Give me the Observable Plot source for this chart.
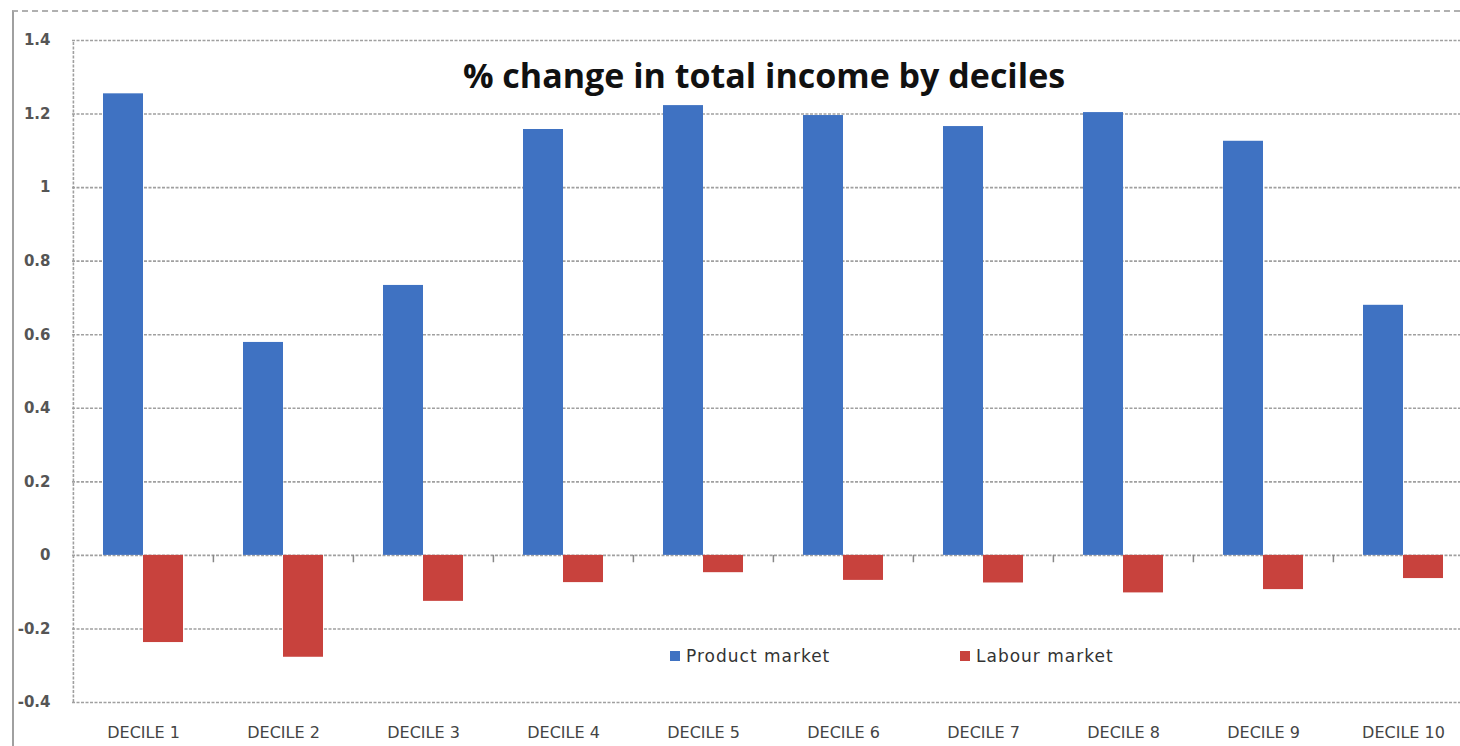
<!DOCTYPE html>
<html>
<head>
<meta charset="utf-8">
<script src="https://cdn.jsdelivr.net/npm/d3@7"></script>
<script src="https://cdn.jsdelivr.net/npm/@observablehq/plot@0.6"></script>
<style>
  html, body { margin: 0; padding: 0; background: #fff; overflow: hidden; width: 1460px; height: 746px; }
  #wrap { position: relative; width: 1460px; height: 746px; overflow: hidden; }
  #chart { position: absolute; left: 0; top: 0; width: 1474px; }
  #chart svg { max-width: none !important; }
  #border { position: absolute; left: 12px; top: 10px; right: -10px; bottom: -10px; border-left: 2px solid #a0a0a0; border-top: 2px dashed #b0b0b0; }
  #title { position: absolute; left: 764px; top: 58px; transform: translateX(-50%); font-family: "Open Sans", sans-serif; font-weight: 700; font-size: 34px; line-height: 34px; color: #111; white-space: nowrap; }
  .leg { position: absolute; top: 646px; font-family: "DejaVu Sans", sans-serif; font-size: 17px; letter-spacing: 1px; line-height: 20px; color: #333; white-space: nowrap; }
  .sw { display: inline-block; width: 10px; height: 10px; margin-right: 6px; vertical-align: 1px; }
</style>
</head>
<body>
<div id="wrap">
  <div id="border"></div>
  <div id="chart"></div>
  <div id="title">% change in total income by deciles</div>
  <div id="legend"></div>
</div>
<script>
const deciles = ["DECILE 1","DECILE 2","DECILE 3","DECILE 4","DECILE 5","DECILE 6","DECILE 7","DECILE 8","DECILE 9","DECILE 10"];
const productMarket = [1.255, 0.579, 0.734, 1.158, 1.223, 1.196, 1.166, 1.204, 1.126, 0.680];
const labourMarket = [-0.237, -0.277, -0.125, -0.074, -0.047, -0.068, -0.075, -0.102, -0.093, -0.063];
const yTicks = [-0.4, -0.2, 0, 0.2, 0.4, 0.6, 0.8, 1.0, 1.2, 1.4];
const seriesNames = ["Product market", "Labour market"];
const seriesColors = ["#3f72c2", "#c8423d"];

const rows = deciles.map((d, i) => ({decile: d, product: productMarket[i], labour: labourMarket[i]}));

const width = 1474, marginLeft = 72, marginRight = 0;
const step = (width - marginLeft - marginRight) / deciles.length;
const barW = 40;
const pInner = (step - barW) / step;

const gridStyle = {stroke: "#a0a0a0", strokeWidth: 1.6, strokeDasharray: "3,1.5"};

const chart = Plot.plot({
  width,
  height: 746,
  marginLeft,
  marginRight,
  marginTop: 40,
  marginBottom: 44,
  style: {background: "transparent", overflow: "visible", maxWidth: "none"},
  x: {type: "band", domain: deciles, paddingInner: pInner, paddingOuter: pInner / 2, label: null},
  y: {domain: [-0.4, 1.4], label: null},
  marks: [
    Plot.ruleY(yTicks, gridStyle),
    Plot.ruleX([deciles[0]], {x: d => d, y1: -0.4, y2: 1.4, dx: -step / 2, ...gridStyle}),
    Plot.ruleX(deciles.slice(1), {x: d => d, y1: 0, y2: -0.02, dx: -step / 2, stroke: "#888", strokeWidth: 1.5}),
    Plot.barY(rows, {x: "decile", y: "product", fill: seriesColors[0], dx: -barW / 2}),
    Plot.barY(rows, {x: "decile", y: "labour", fill: seriesColors[1], dx: barW / 2}),
    Plot.axisY({ticks: yTicks, tickSize: 0, tickPadding: 22, tickFormat: d => String(+d.toFixed(1)), fontSize: 15, fontWeight: "bold", fill: "#555", fontFamily: "DejaVu Sans"}),
    Plot.axisX({tickSize: 0, tickPadding: 24, fontSize: 16, fill: "#444", fontFamily: "DejaVu Sans", style: "letter-spacing: 0.6px"})
  ]
});
document.getElementById("chart").appendChild(chart);

const legendPos = [670, 960];
const legend = document.getElementById("legend");
seriesNames.forEach((name, i) => {
  const el = document.createElement("div");
  el.className = "leg";
  el.style.left = legendPos[i] + "px";
  el.innerHTML = `<span class="sw" style="background:${seriesColors[i]}"></span>${name}`;
  legend.appendChild(el);
});
</script>
</body>
</html>
